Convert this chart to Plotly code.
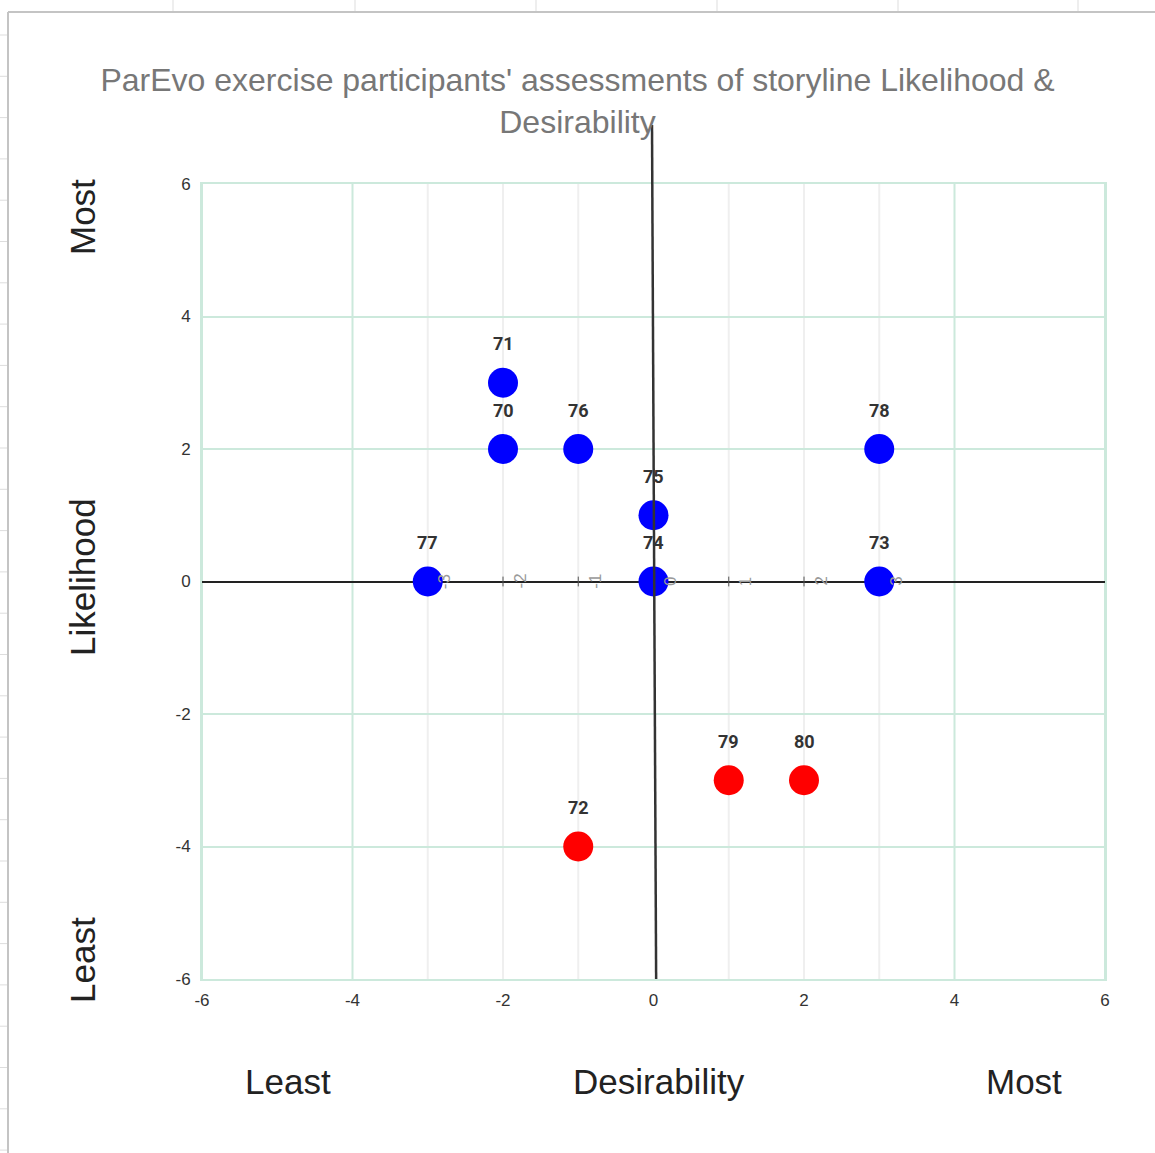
import plotly.graph_objects as go

# ---- data ----
ids = ["70", "71", "72", "73", "74", "75", "76", "77", "78", "79", "80"]
desirability = [-2, -2, -1, 3, 0, 0, -1, -3, 3, 1, 2]
likelihood = [2, 3, -4, 0, 0, 1, 2, 0, 2, -3, -3]
point_colors = ["#0000ff", "#0000ff", "#ff0000", "#0000ff", "#0000ff", "#0000ff",
                "#0000ff", "#0000ff", "#0000ff", "#ff0000", "#ff0000"]

axis_ticks = [-6, -4, -2, 0, 2, 4, 6]
axis_tick_labels = ["-6", "-4", "-2", "0", "2", "4", "6"]
inner_ticks = [-3, -2, -1, 0, 1, 2, 3]
inner_tick_labels = ["-3", "-2", "-1", "0", "1", "2", "3"]
green_x = [-6, -4, 4, 6]
gray_x = [-3, -2, -1, 1, 2, 3]

title_text = "ParEvo exercise participants' assessments of storyline Likelihood &<br>Desirability"

W, H = 1155, 1153
L, R, T, B = 202, 1105, 184, 979


def px(x):
    return (x - L) / (R - L)


def py(y):
    return (B - y) / (B - T)


GREEN = "#cce9dc"
LIGHT = "#efefef"

fig = go.Figure()

# tick marks on the inner horizontal axis
fig.add_trace(go.Scatter(
    x=inner_ticks, y=[0] * len(inner_ticks), mode="markers",
    marker=dict(symbol="line-ns", size=7, line=dict(color="#555", width=1)),
    hoverinfo="skip", showlegend=False, cliponaxis=False))

# the points
fig.add_trace(go.Scatter(
    x=desirability, y=likelihood, mode="markers",
    marker=dict(size=30, color=point_colors, line=dict(width=0)),
    showlegend=False, cliponaxis=False, hoverinfo="skip"))

shapes = []
for v in green_x:
    shapes.append(dict(type="line", xref="x", yref="y", x0=v, x1=v, y0=-6, y1=6,
                       line=dict(color=GREEN, width=2), layer="below"))
for v in gray_x:
    shapes.append(dict(type="line", xref="x", yref="y", x0=v, x1=v, y0=-6, y1=6,
                       line=dict(color=LIGHT, width=2), layer="below"))
# vertical black axis (slightly tilted, extends above the plot)
shapes.append(dict(type="line", xref="x", yref="paper", x0=0.035, x1=-0.02,
                   y0=0, y1=py(125), line=dict(color="#333", width=2.5), layer="above"))

# spreadsheet page frame
shapes.append(dict(type="line", xref="paper", yref="paper", x0=px(8), x1=px(W),
                   y0=py(12), y1=py(12), line=dict(color="#c4c4c4", width=2)))
shapes.append(dict(type="line", xref="paper", yref="paper", x0=px(8), x1=px(8),
                   y0=py(12), y1=py(H), line=dict(color="#c4c4c4", width=2)))
for cx in [173, 355, 536, 717, 898, 1078]:
    shapes.append(dict(type="line", xref="paper", yref="paper", x0=px(cx), x1=px(cx),
                       y0=py(0), y1=py(11), line=dict(color="#dddddd", width=1)))
ry = 35
while ry < H:
    shapes.append(dict(type="line", xref="paper", yref="paper", x0=px(0), x1=px(7),
                       y0=py(ry), y1=py(ry), line=dict(color="#dddddd", width=1)))
    ry += 41.3

annotations = []
for i, x, y in zip(ids, desirability, likelihood):
    annotations.append(dict(x=x, y=y, xref="x", yref="y", text="<b>" + i + "</b>",
                            showarrow=False, yshift=39,
                            font=dict(family="Roboto, Arial", size=18, color="#333")))
for v, t in zip(inner_ticks, inner_tick_labels):
    annotations.append(dict(x=v, y=0, xref="x", yref="y", text=t, showarrow=False,
                            xshift=17, textangle=-90,
                            font=dict(family="Arial", size=17, color="#9a9a9a")))

lab_font = dict(family="Arial", size=35, color="#222")
for t, xp in [("Least", 288), ("Desirability", 659), ("Most", 1024)]:
    annotations.append(dict(x=px(xp), y=py(1081), xref="paper", yref="paper", text=t,
                            showarrow=False, font=lab_font, xanchor="center", yanchor="middle"))
for t, yp in [("Most", 217), ("Likelihood", 577), ("Least", 960)]:
    annotations.append(dict(x=px(82), y=py(yp), xref="paper", yref="paper", text=t,
                            showarrow=False, font=lab_font, textangle=-90,
                            xanchor="center", yanchor="middle"))

tick_font = dict(family="Arial", size=17, color="#333")

fig.update_layout(
    width=W, height=H, autosize=False,
    margin=dict(l=L, r=W - R, t=T, b=H - B),
    paper_bgcolor="white", plot_bgcolor="white",
    title=dict(text=title_text, x=0.5, xanchor="center", xref="container",
               y=1 - 91 / H, yref="container", yanchor="middle",
               font=dict(family="Arial", size=32, color="#777")),
    xaxis=dict(range=[-6, 6], tickvals=axis_ticks, ticktext=axis_tick_labels,
               showgrid=False, zeroline=False,
               showline=True, linecolor=GREEN, linewidth=2, mirror=True,
               ticks="", tickfont=tick_font, ticklabelstandoff=5, fixedrange=True),
    yaxis=dict(range=[-6, 6], tickvals=axis_ticks, ticktext=axis_tick_labels,
               showgrid=True, gridcolor=GREEN,
               gridwidth=2, zeroline=True, zerolinecolor="#222", zerolinewidth=1.5,
               showline=True, linecolor=GREEN, linewidth=2, mirror=True,
               ticks="", tickfont=tick_font, ticklabelstandoff=6, fixedrange=True),
    shapes=shapes, annotations=annotations,
    hovermode=False, showlegend=False,
)

fig.write_html("out.html", config={"displayModeBar": False},
               post_script="document.body.style.margin='0';")
